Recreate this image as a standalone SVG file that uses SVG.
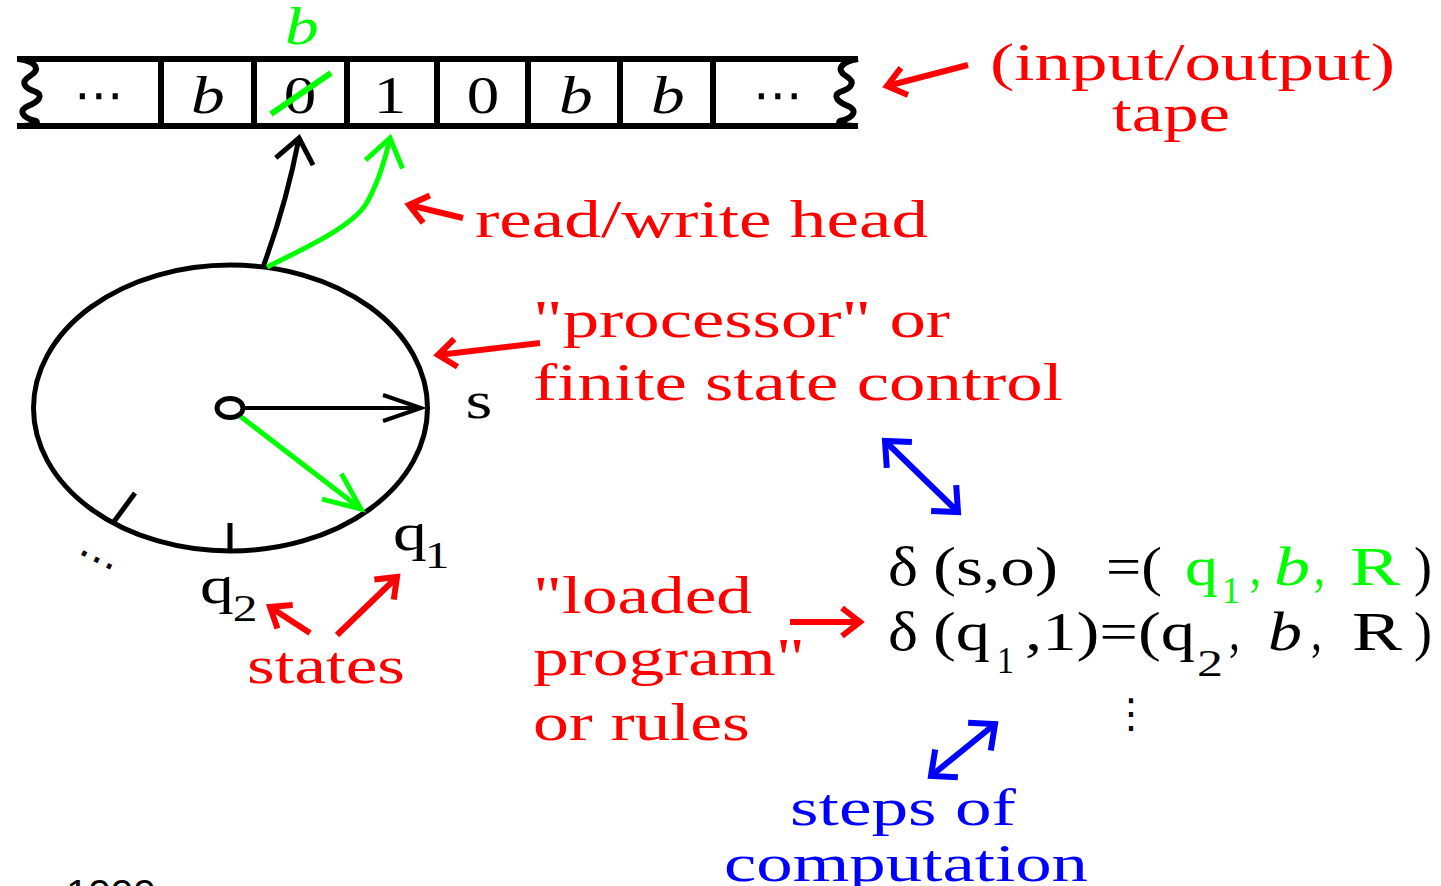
<svg xmlns="http://www.w3.org/2000/svg" width="1441" height="886" viewBox="0 0 1441 886">
<style>
text{font-family:"Liberation Serif","Times New Roman",serif;}
.r{fill:#FF0000}.g{fill:#00FF00}.b{fill:#0000FF}.k{fill:#000}
.L{font-size:53px}.F{font-size:54px}.S{font-size:38px}
.it{font-style:italic}
.sym{font-family:"DejaVu Sans",sans-serif}
.ln{fill:none;stroke-linecap:butt;stroke-linejoin:miter}
.ck{stroke:#000}.cg{stroke:#00FF00}.cr{stroke:#FF0000}.cb{stroke:#0000FF}
</style>
<defs>
<marker id="mK" markerUnits="userSpaceOnUse" viewBox="-50 -30 60 60" markerWidth="60" markerHeight="60" refX="0" refY="0" orient="auto" overflow="visible"><path d="M-24,-19 L0,0 L-24,19" fill="none" stroke="#000" stroke-width="5"/></marker>
<marker id="mKh" markerUnits="userSpaceOnUse" viewBox="-50 -30 60 60" markerWidth="60" markerHeight="60" refX="0" refY="0" orient="auto" overflow="visible"><path d="M-38,-13 L0,0 L-38,13" fill="none" stroke="#000" stroke-width="4"/></marker>
<marker id="mG" markerUnits="userSpaceOnUse" viewBox="-50 -30 60 60" markerWidth="60" markerHeight="60" refX="0" refY="0" orient="auto" overflow="visible"><path d="M-27,-19 L0,0 L-27,19" fill="none" stroke="#00FF00" stroke-width="5"/></marker>
<marker id="mGh" markerUnits="userSpaceOnUse" viewBox="-50 -30 60 60" markerWidth="60" markerHeight="60" refX="0" refY="0" orient="auto" overflow="visible"><path d="M-37,-16 L0,0 L-37,16" fill="none" stroke="#00FF00" stroke-width="5"/></marker>
<marker id="mR" markerUnits="userSpaceOnUse" viewBox="-50 -30 60 60" markerWidth="60" markerHeight="60" refX="0" refY="0" orient="auto" overflow="visible"><path d="M-18,-14 L0,0 L-18,14" fill="none" stroke="#FF0000" stroke-width="6"/></marker>
<marker id="mB" markerUnits="userSpaceOnUse" viewBox="-50 -30 60 60" markerWidth="60" markerHeight="60" refX="0" refY="0" orient="auto-start-reverse" overflow="visible"><path d="M-20,-18 L0,0 L-20,18" fill="none" stroke="#0000FF" stroke-width="6"/></marker>
</defs>
<rect width="1441" height="886" fill="#fff"/>

<g id="tape">
<path class="ln ck" stroke-width="6" d="M17,59 L858,59 M17,126 L858,126"/>
<path class="ln ck" stroke-width="6" d="M161,59 V126 M254,59 V126 M347,59 V126 M437,59 V126 M528,59 V126 M620,59 V126 M713,59 V126"/>
<path class="ln ck" stroke-width="6" d="M19,59 C38,62 40,70 30,76 C20,82 24,88 36,92 C44,96 38,102 28,106 C18,110 22,118 36,121 C40,124 30,126 19,126"/>
<path class="ln ck" stroke-width="6" d="M858,59 C840,62 836,70 846,76 C856,82 852,88 840,92 C832,96 838,102 848,106 C858,110 854,118 840,121 C836,124 846,126 858,126"/>
<text class="k sym" font-size="50" text-anchor="middle" x="99" y="112">⋯</text>
<text class="k it" font-size="52" text-anchor="middle" transform="translate(208,113) scale(1.3,1)">b</text>
<text class="k" font-size="52" text-anchor="middle" transform="translate(300,113) scale(1.25,1)">0</text>
<text class="k" font-size="52" text-anchor="middle" transform="translate(390,113) scale(1.25,1)">1</text>
<text class="k" font-size="52" text-anchor="middle" transform="translate(483,113) scale(1.25,1)">0</text>
<text class="k it" font-size="52" text-anchor="middle" transform="translate(576,113) scale(1.3,1)">b</text>
<text class="k it" font-size="52" text-anchor="middle" transform="translate(668,113) scale(1.3,1)">b</text>
<text class="k sym" font-size="50" text-anchor="middle" x="778" y="112">⋯</text>
<path class="ln cg" stroke-width="6" d="M271,114 L331,73"/>
<text class="g it" font-size="52" text-anchor="middle" transform="translate(302,44) scale(1.3,1)">b</text>
</g>

<g id="control">
<ellipse cx="230.5" cy="408" rx="197" ry="143" fill="none" stroke="#000" stroke-width="5"/>
<path class="ln ck" stroke-width="5" d="M113,523 L135,493 M230,523 L230,550"/>
<text class="k sym" font-size="42" transform="translate(72,562) rotate(27)">⋯</text>
<text class="k" font-size="53" text-anchor="middle" transform="translate(479,418) scale(1.3,1)">s</text>
<text class="k" font-size="52" text-anchor="middle" transform="translate(410,550) scale(1.3,1)">q</text>
<text class="k S" text-anchor="middle" transform="translate(437,568) scale(1.3,1)">1</text>
<text class="k" font-size="52" text-anchor="middle" transform="translate(217,603) scale(1.3,1)">q</text>
<text class="k S" text-anchor="middle" transform="translate(245,621) scale(1.3,1)">2</text>
</g>

<g id="connectors">
<path class="ln ck" stroke-width="5" d="M263,267 Q286,205 299,138" marker-end="url(#mK)"/>
<path class="ln cg" stroke-width="5" d="M267,267 C310,246 352,226 366,204 C378,184 385,160 390,138" marker-end="url(#mG)"/>
<path class="ln ck" stroke-width="4" d="M244,408 L421,408" marker-end="url(#mKh)"/>
<path class="ln cg" stroke-width="5" d="M240,416 L361,509" marker-end="url(#mGh)"/>
<ellipse cx="230" cy="408" rx="13" ry="9.5" fill="#fff" stroke="#000" stroke-width="5"/>
<path class="ln cr" stroke-width="6" d="M968,65 L887,86" marker-end="url(#mR)"/>
<path class="ln cr" stroke-width="6" d="M463,218 L409,205" marker-end="url(#mR)"/>
<path class="ln cr" stroke-width="6" d="M540,343 L438,355" marker-end="url(#mR)"/>
<path class="ln cr" stroke-width="6" d="M790,622 L860,622" marker-end="url(#mR)"/>
<path class="ln cr" stroke-width="6" d="M310,633 L270,607" marker-end="url(#mR)"/>
<path class="ln cr" stroke-width="6" d="M337,635 L397,577" marker-end="url(#mR)"/>
<path class="ln cb" stroke-width="6" d="M885,441 L958,512" marker-start="url(#mB)" marker-end="url(#mB)"/>
<path class="ln cb" stroke-width="6" d="M931,776 L995,724" marker-start="url(#mB)" marker-end="url(#mB)"/>
</g>

<g id="labels">
<text class="r L" x="990" y="80" textLength="405" lengthAdjust="spacingAndGlyphs">(input/output)</text>
<text class="r L" x="1112" y="131" textLength="118" lengthAdjust="spacingAndGlyphs">tape</text>
<text class="r L" x="475" y="237" textLength="453" lengthAdjust="spacingAndGlyphs">read/write head</text>
<text class="r L" x="533" y="337" textLength="417" lengthAdjust="spacingAndGlyphs">"processor" or</text>
<text class="r L" x="533" y="400" textLength="530" lengthAdjust="spacingAndGlyphs">finite state control</text>
<text class="r L" x="247" y="683" textLength="158" lengthAdjust="spacingAndGlyphs">states</text>
<text class="r L" x="533" y="613" textLength="219" lengthAdjust="spacingAndGlyphs">"loaded</text>
<text class="r L" x="533" y="675" textLength="272" lengthAdjust="spacingAndGlyphs">program"</text>
<text class="r L" x="533" y="740" textLength="217" lengthAdjust="spacingAndGlyphs">or rules</text>
<text class="b L" x="790" y="825" textLength="226" lengthAdjust="spacingAndGlyphs">steps of</text>
<text class="b L" x="724" y="881" textLength="364" lengthAdjust="spacingAndGlyphs">computation</text>
</g>

<g id="rules">
<text class="k F" x="888" y="585" textLength="30" lengthAdjust="spacingAndGlyphs">δ</text>
<text class="k F" x="933" y="585" textLength="125" lengthAdjust="spacingAndGlyphs">(s,o)</text>
<text class="k F" x="1106" y="585" textLength="56" lengthAdjust="spacingAndGlyphs">=(</text>
<text class="g F" x="1185" y="585" textLength="33" lengthAdjust="spacingAndGlyphs">q</text>
<text class="g S" x="1222" y="603" textLength="18" lengthAdjust="spacingAndGlyphs">1</text>
<text class="g F" x="1250" y="585" textLength="11" lengthAdjust="spacingAndGlyphs">,</text>
<text class="g F it" x="1274" y="585" textLength="36" lengthAdjust="spacingAndGlyphs">b</text>
<text class="g F" x="1314" y="585" textLength="11" lengthAdjust="spacingAndGlyphs">,</text>
<text class="g F" x="1350" y="585" textLength="50" lengthAdjust="spacingAndGlyphs">R</text>
<text class="k F" x="1414" y="585" textLength="18" lengthAdjust="spacingAndGlyphs">)</text>

<text class="k F" x="888" y="650" textLength="30" lengthAdjust="spacingAndGlyphs">δ</text>
<text class="k F" x="933" y="650" textLength="57" lengthAdjust="spacingAndGlyphs">(q</text>
<text class="k S" x="997" y="673" textLength="17" lengthAdjust="spacingAndGlyphs">1</text>
<text class="k F" x="1025" y="650" textLength="170" lengthAdjust="spacingAndGlyphs">,1)=(q</text>
<text class="k S" x="1197" y="676" textLength="26" lengthAdjust="spacingAndGlyphs">2</text>
<text class="k F" x="1229" y="650" textLength="11" lengthAdjust="spacingAndGlyphs">,</text>
<text class="k F it" x="1268" y="650" textLength="34" lengthAdjust="spacingAndGlyphs">b</text>
<text class="k F" x="1311" y="650" textLength="11" lengthAdjust="spacingAndGlyphs">,</text>
<text class="k F" x="1352" y="650" textLength="50" lengthAdjust="spacingAndGlyphs">R</text>
<text class="k F" x="1414" y="650" textLength="18" lengthAdjust="spacingAndGlyphs">)</text>
<text class="k sym" font-size="40" text-anchor="middle" x="1131" y="727">⋮</text>
</g>

<text class="k" style="font-family:'Liberation Sans',Arial,sans-serif" font-size="36" x="66" y="906" textLength="90" lengthAdjust="spacingAndGlyphs">1999</text>
</svg>
